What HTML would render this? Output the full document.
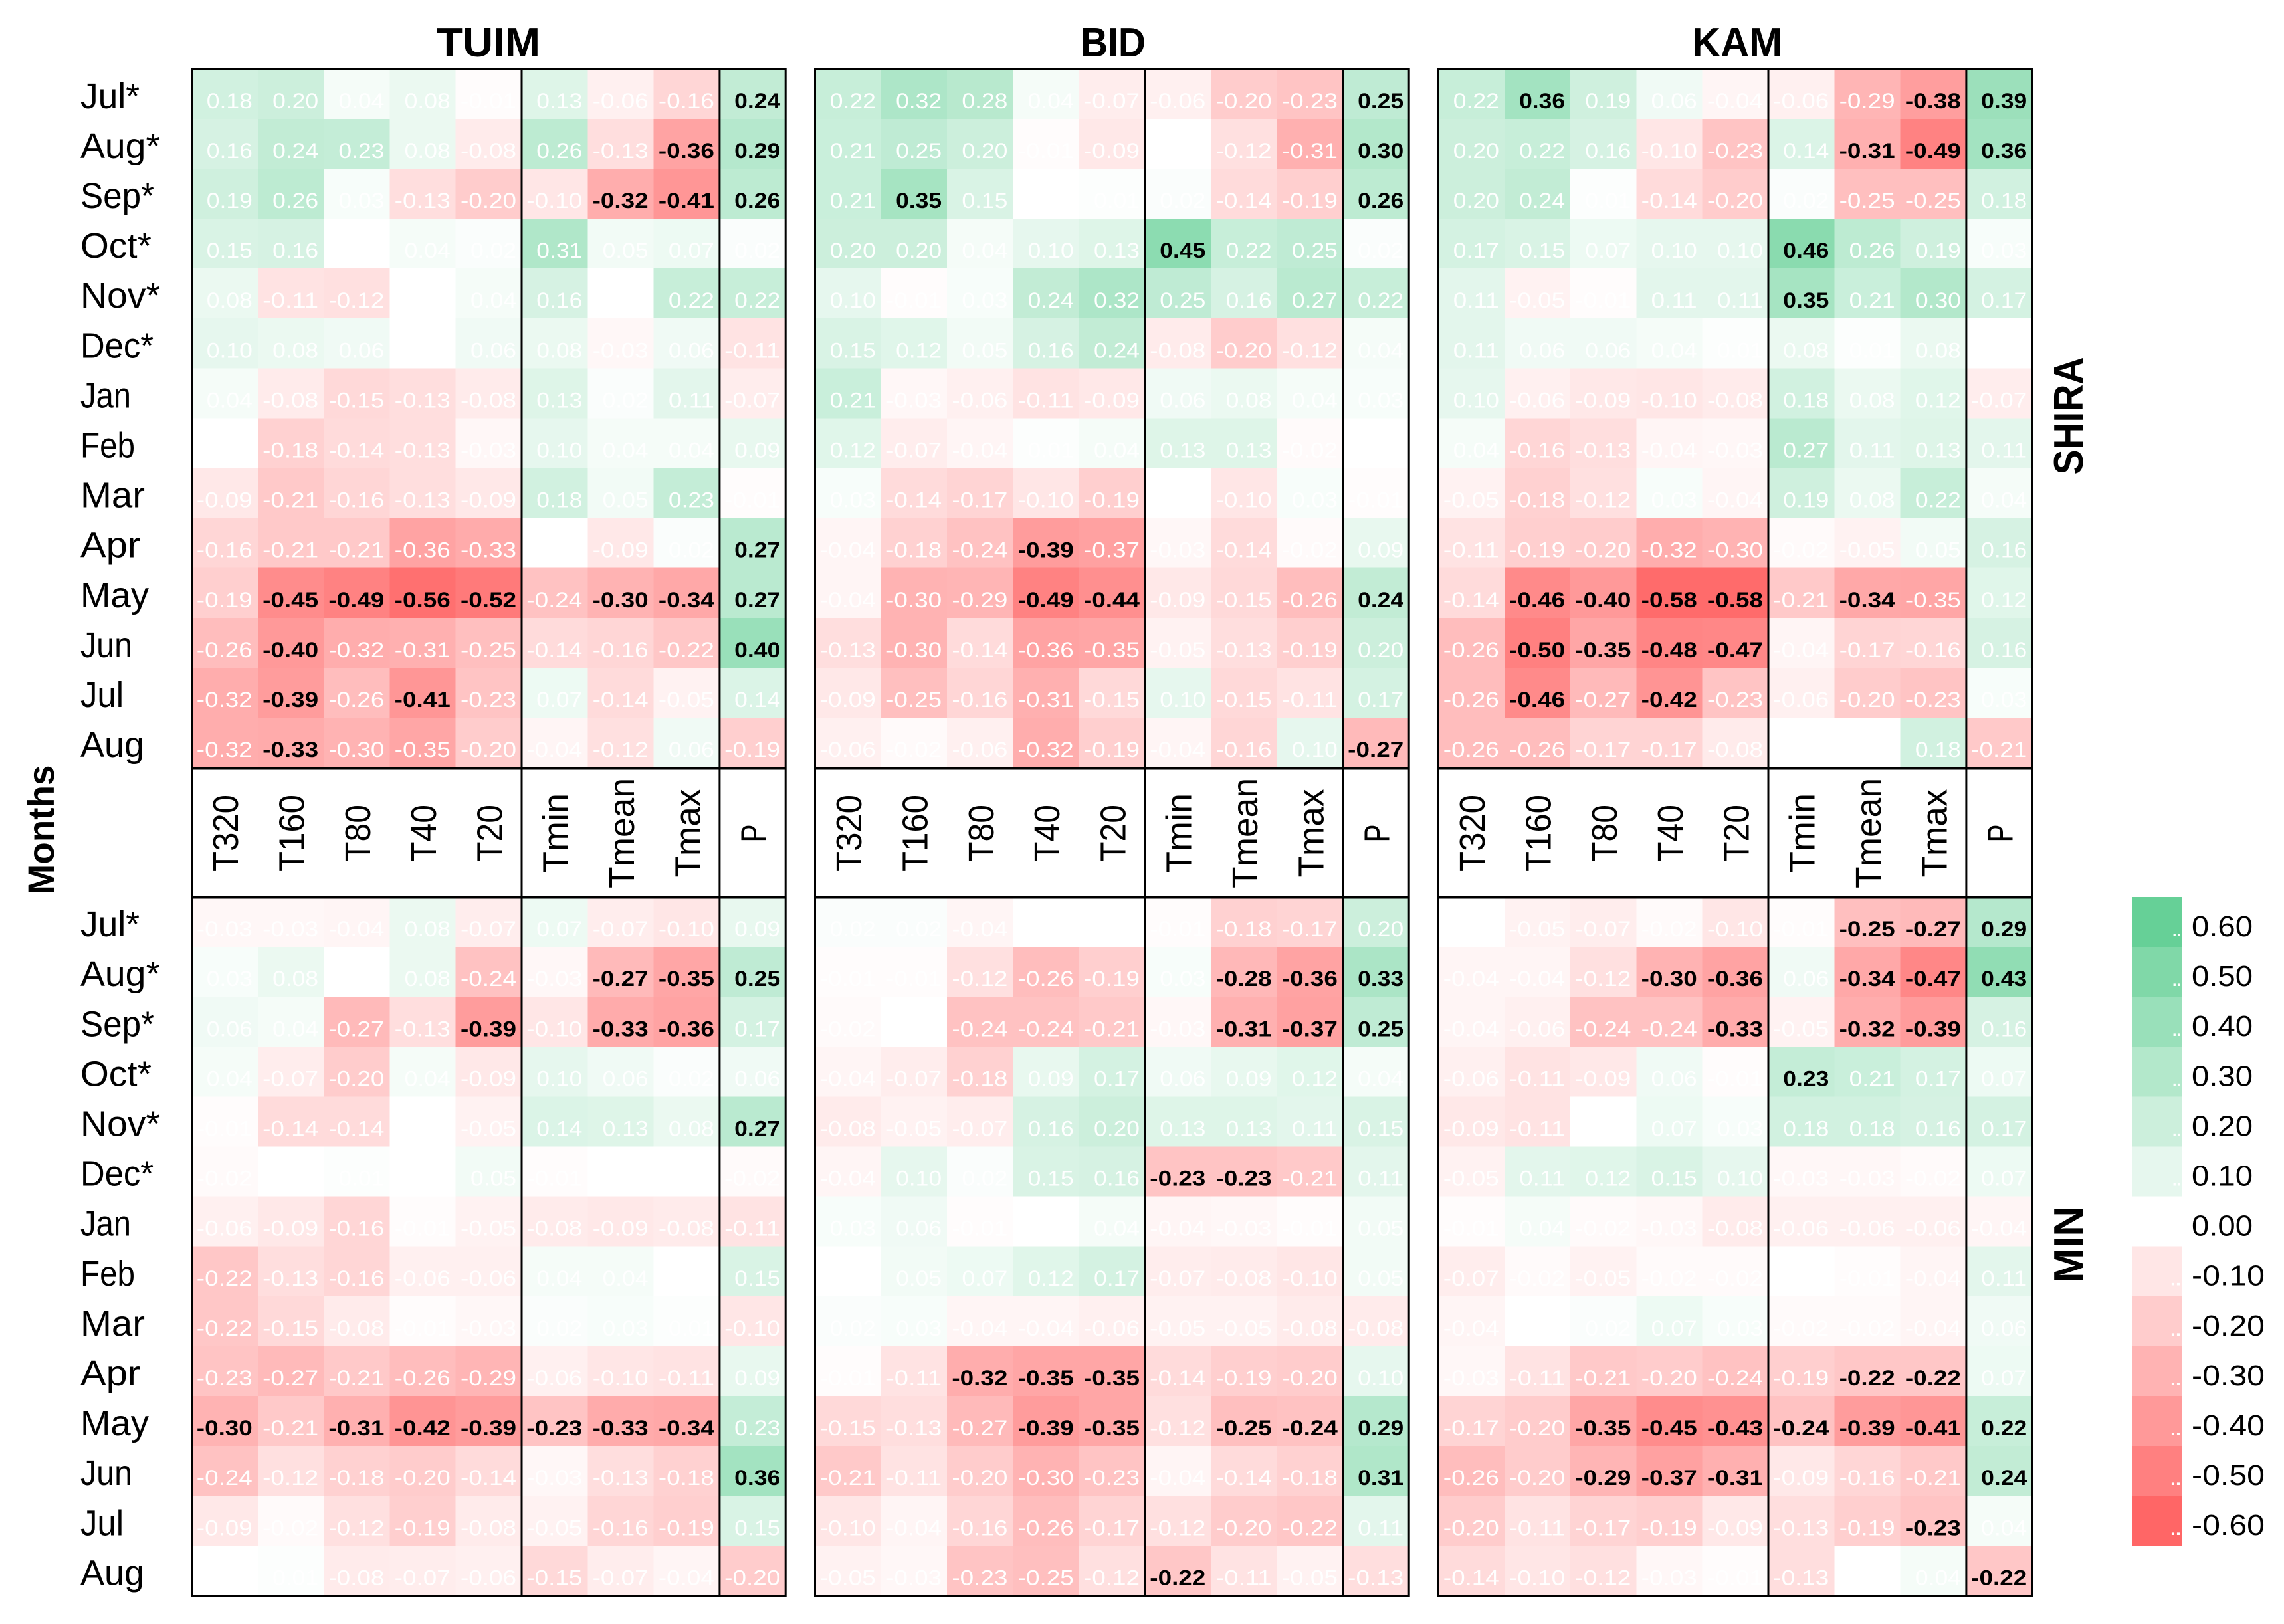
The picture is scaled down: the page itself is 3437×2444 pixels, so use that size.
<!DOCTYPE html>
<html lang="en">
<head>
<meta charset="utf-8">
<title>Correlation heatmaps TUIM BID KAM</title>
<style>
html,body{margin:0;padding:0;background:#fff;}
svg{display:block;}
text{font-family:"Liberation Sans",Arial,sans-serif;}
</style>
</head>
<body>
<svg id="chart" xmlns="http://www.w3.org/2000/svg" width="3437" height="2444" viewBox="0 0 3437 2444">
  <rect x="0" y="0" width="3437" height="2444" fill="#ffffff"/>
  <g id="cells"></g>
  <g id="cell-values"></g>
  <g id="frames"></g>
  <g id="month-labels"></g>
  <g id="variable-labels"></g>
  <g id="legend"></g>

  <text x="735" y="85" font-size="62" font-weight="bold" text-anchor="middle" textLength="156" lengthAdjust="spacingAndGlyphs">TUIM</text>
  <text x="1675" y="85" font-size="62" font-weight="bold" text-anchor="middle" textLength="98" lengthAdjust="spacingAndGlyphs">BID</text>
  <text x="2614" y="85" font-size="62" font-weight="bold" text-anchor="middle" textLength="136" lengthAdjust="spacingAndGlyphs">KAM</text>

  <text transform="translate(81 1249) rotate(-90)" font-size="56" font-weight="bold" text-anchor="middle" textLength="195" lengthAdjust="spacingAndGlyphs">Months</text>
  <text transform="translate(3134 626) rotate(-90)" font-size="62" font-weight="bold" text-anchor="middle" textLength="177" lengthAdjust="spacingAndGlyphs">SHIRA</text>
  <text transform="translate(3134 1873) rotate(-90)" font-size="62" font-weight="bold" text-anchor="middle" textLength="116" lengthAdjust="spacingAndGlyphs">MIN</text>
</svg>

<script>
const months = ['Jul*','Aug*','Sep*','Oct*','Nov*','Dec*','Jan','Feb','Mar','Apr','May','Jun','Jul','Aug'];
const variables = ['T320','T160','T80','T40','T20','Tmin','Tmean','Tmax','P'];
const legendValues = [0.60,0.50,0.40,0.30,0.20,0.10,0.00,-0.10,-0.20,-0.30,-0.40,-0.50,-0.60];

const tuimShira = [
[0.18,0.20,0.04,0.08,-0.01,0.13,-0.06,-0.16,0.24],
[0.16,0.24,0.23,0.08,-0.08,0.26,-0.13,-0.36,0.29],
[0.19,0.26,0.03,-0.13,-0.20,-0.10,-0.32,-0.41,0.26],
[0.15,0.16,0.00,0.04,0.02,0.31,0.05,0.07,0.02],
[0.08,-0.11,-0.12,0.00,0.04,0.16,0.00,0.22,0.22],
[0.10,0.08,0.06,0.00,0.06,0.08,-0.03,0.06,-0.11],
[0.04,-0.08,-0.15,-0.13,-0.08,0.13,0.02,0.11,-0.07],
[0.00,-0.18,-0.14,-0.13,-0.03,0.10,0.04,0.04,0.09],
[-0.09,-0.21,-0.16,-0.13,-0.09,0.18,0.05,0.23,-0.01],
[-0.16,-0.21,-0.21,-0.36,-0.33,0.00,-0.09,0.02,0.27],
[-0.19,-0.45,-0.49,-0.56,-0.52,-0.24,-0.30,-0.34,0.27],
[-0.26,-0.40,-0.32,-0.31,-0.25,-0.14,-0.16,-0.22,0.40],
[-0.32,-0.39,-0.26,-0.41,-0.23,0.07,-0.14,-0.05,0.14],
[-0.32,-0.33,-0.30,-0.35,-0.20,-0.04,-0.12,0.06,-0.19]
];
const bidShira = [
[0.22,0.32,0.28,0.04,-0.07,-0.06,-0.20,-0.23,0.25],
[0.21,0.25,0.20,-0.01,-0.09,0.00,-0.12,-0.31,0.30],
[0.21,0.35,0.15,0.00,0.01,0.02,-0.14,-0.19,0.26],
[0.20,0.20,0.04,0.10,0.13,0.45,0.22,0.25,0.02],
[0.10,-0.01,0.03,0.24,0.32,0.25,0.16,0.27,0.22],
[0.15,0.12,0.05,0.16,0.24,-0.08,-0.20,-0.12,0.04],
[0.21,-0.03,-0.06,-0.11,-0.09,0.06,0.08,0.04,0.03],
[0.12,-0.07,-0.04,0.01,0.04,0.13,0.13,-0.02,0.00],
[0.03,-0.14,-0.17,-0.10,-0.19,0.00,-0.10,0.03,-0.01],
[-0.04,-0.18,-0.24,-0.39,-0.37,-0.03,-0.14,-0.02,0.09],
[-0.04,-0.30,-0.29,-0.49,-0.44,-0.09,-0.15,-0.26,0.24],
[-0.13,-0.30,-0.14,-0.36,-0.35,-0.05,-0.13,-0.19,0.20],
[-0.09,-0.25,-0.16,-0.31,-0.15,0.10,-0.15,-0.11,0.17],
[-0.06,-0.02,-0.06,-0.32,-0.19,-0.04,-0.16,0.10,-0.27]
];
const kamShira = [
[0.22,0.36,0.19,0.06,-0.04,-0.06,-0.29,-0.38,0.39],
[0.20,0.22,0.16,-0.10,-0.23,0.14,-0.31,-0.49,0.36],
[0.20,0.24,0.01,-0.14,-0.20,0.02,-0.25,-0.25,0.18],
[0.17,0.15,0.07,0.10,0.10,0.46,0.26,0.19,0.03],
[0.11,-0.05,-0.01,0.11,0.11,0.35,0.21,0.30,0.17],
[0.11,0.06,0.06,0.04,0.01,0.08,0.01,0.08,0.00],
[0.10,-0.06,-0.09,-0.10,-0.08,0.18,0.08,0.12,-0.07],
[0.04,-0.16,-0.13,-0.04,-0.03,0.27,0.11,0.13,0.11],
[-0.05,-0.18,-0.12,0.03,-0.04,0.19,0.08,0.22,0.04],
[-0.11,-0.19,-0.20,-0.32,-0.30,-0.02,-0.05,0.05,0.16],
[-0.14,-0.46,-0.40,-0.58,-0.58,-0.21,-0.34,-0.35,0.12],
[-0.26,-0.50,-0.35,-0.48,-0.47,-0.04,-0.17,-0.16,0.16],
[-0.26,-0.46,-0.27,-0.42,-0.23,-0.06,-0.20,-0.23,0.03],
[-0.26,-0.26,-0.17,-0.17,-0.08,0.00,0.00,0.18,-0.21]
];
const tuimMin = [
[-0.03,-0.03,-0.04,0.08,-0.07,0.07,-0.07,-0.10,0.09],
[0.03,0.08,0.00,0.08,-0.24,-0.03,-0.27,-0.35,0.25],
[0.06,0.04,-0.27,-0.13,-0.39,-0.10,-0.33,-0.36,0.17],
[0.04,-0.07,-0.20,0.04,-0.09,0.10,0.06,0.02,0.06],
[-0.01,-0.14,-0.14,0.00,-0.05,0.14,0.13,0.08,0.27],
[-0.02,0.00,0.01,0.00,0.05,-0.01,0.00,0.00,-0.02],
[-0.06,-0.09,-0.16,-0.01,-0.05,-0.08,-0.09,-0.08,-0.11],
[-0.22,-0.13,-0.16,-0.06,-0.06,0.04,0.04,0.00,0.15],
[-0.22,-0.15,-0.08,-0.01,-0.03,0.02,0.03,0.01,-0.10],
[-0.23,-0.27,-0.21,-0.26,-0.29,-0.06,-0.10,-0.11,0.09],
[-0.30,-0.21,-0.31,-0.42,-0.39,-0.23,-0.33,-0.34,0.23],
[-0.24,-0.12,-0.18,-0.20,-0.14,-0.03,-0.13,-0.18,0.36],
[-0.09,-0.02,-0.12,-0.19,-0.08,-0.05,-0.16,-0.19,0.15],
[0.00,0.01,-0.08,-0.07,-0.06,-0.15,-0.07,-0.04,-0.20]
];
const bidMin = [
[0.02,0.02,-0.04,0.00,0.00,-0.01,-0.18,-0.17,0.20],
[-0.01,-0.01,-0.12,-0.26,-0.19,0.03,-0.28,-0.36,0.33],
[-0.02,0.00,-0.24,-0.24,-0.21,-0.03,-0.31,-0.37,0.25],
[-0.04,-0.07,-0.18,0.09,0.17,0.06,0.09,0.12,0.04],
[-0.08,-0.05,-0.07,0.16,0.20,0.13,0.13,0.11,0.15],
[-0.04,0.10,0.02,0.15,0.16,-0.23,-0.23,-0.21,0.11],
[0.03,0.06,-0.01,0.00,0.04,-0.04,-0.03,-0.01,0.05],
[0.00,0.05,0.07,0.12,0.17,-0.07,-0.08,-0.10,0.05],
[0.02,0.03,-0.04,-0.04,-0.06,-0.05,-0.05,-0.08,-0.08],
[-0.01,-0.11,-0.32,-0.35,-0.35,-0.14,-0.19,-0.20,0.10],
[-0.15,-0.13,-0.27,-0.39,-0.35,-0.12,-0.25,-0.24,0.29],
[-0.21,-0.11,-0.20,-0.30,-0.23,-0.04,-0.14,-0.18,0.31],
[-0.10,-0.04,-0.16,-0.26,-0.17,-0.12,-0.20,-0.22,0.11],
[-0.05,-0.03,-0.23,-0.25,-0.12,-0.22,-0.11,-0.05,-0.13]
];
const kamMin = [
[0.00,-0.05,-0.07,-0.02,-0.10,-0.01,-0.25,-0.27,0.29],
[-0.04,-0.04,-0.12,-0.30,-0.36,0.06,-0.34,-0.47,0.43],
[-0.04,-0.06,-0.24,-0.24,-0.33,-0.05,-0.32,-0.39,0.16],
[-0.06,-0.11,-0.09,0.06,-0.01,0.23,0.21,0.17,0.07],
[-0.09,-0.11,0.00,0.07,0.03,0.18,0.18,0.16,0.17],
[-0.05,0.11,0.12,0.15,0.10,-0.03,-0.03,-0.02,0.07],
[-0.01,0.04,-0.02,-0.03,-0.08,-0.06,-0.06,-0.06,-0.04],
[-0.07,-0.02,-0.05,-0.02,-0.02,0.00,-0.01,-0.04,0.11],
[-0.04,0.00,0.02,0.07,0.03,-0.02,-0.02,-0.04,0.06],
[-0.03,-0.11,-0.21,-0.20,-0.24,-0.19,-0.22,-0.22,0.07],
[-0.17,-0.20,-0.35,-0.45,-0.43,-0.24,-0.39,-0.41,0.22],
[-0.26,-0.20,-0.29,-0.37,-0.31,-0.09,-0.16,-0.21,0.24],
[-0.20,-0.11,-0.17,-0.19,-0.09,-0.13,-0.19,-0.23,0.04],
[-0.14,-0.10,-0.12,-0.03,-0.01,-0.13,0.00,0.04,-0.22]
];

/* significant (bold black) cells: [month index, variable index] */
const sigTuimShira = [[0,8],[1,7],[1,8],[2,6],[2,7],[2,8],[9,8],[10,1],[10,2],[10,3],[10,4],[10,6],[10,7],[10,8],[11,1],[11,8],[12,1],[12,3],[13,1]];
const sigBidShira = [[0,8],[1,8],[2,1],[2,8],[3,5],[9,3],[10,3],[10,4],[10,8],[13,8]];
const sigKamShira = [[0,1],[0,7],[0,8],[1,6],[1,7],[1,8],[3,5],[4,5],[10,1],[10,2],[10,3],[10,4],[10,6],[11,1],[11,2],[11,3],[11,4],[12,1],[12,3]];
const sigTuimMin = [[1,6],[1,7],[1,8],[2,4],[2,6],[2,7],[4,8],[10,0],[10,2],[10,3],[10,4],[10,5],[10,6],[10,7],[11,8]];
const sigBidMin = [[1,6],[1,7],[1,8],[2,6],[2,7],[2,8],[5,5],[5,6],[9,2],[9,3],[9,4],[10,3],[10,4],[10,6],[10,7],[10,8],[11,8],[13,5]];
const sigKamMin = [[0,6],[0,7],[0,8],[1,3],[1,4],[1,6],[1,7],[1,8],[2,4],[2,6],[2,7],[3,5],[9,6],[9,7],[10,2],[10,3],[10,4],[10,5],[10,6],[10,7],[10,8],[11,2],[11,3],[11,4],[11,8],[12,7],[13,8]];

const NS = 'http://www.w3.org/2000/svg';
const COL_W = 99.3;
const ROW_H = 75.1;
const SITE_X = [288.5, 1226.5, 2164.5];
const GROUP_Y = [103.7, 1350];
const BAND_Y = 1254;

function xScale(site, col) { return SITE_X[site] + col * COL_W; }
function yScale(group, row) { return GROUP_Y[group] + row * ROW_H; }
function mix(a, b, t) { return Math.round(a + (b - a) * t); }
function colorScale(v) {
  const t = Math.min(1, Math.abs(v) / 0.6);
  if (v >= 0) return 'rgb(' + mix(255,102,t) + ',' + mix(255,208,t) + ',' + mix(255,151,t) + ')';
  return 'rgb(255,' + mix(255,102,t) + ',' + mix(255,102,t) + ')';
}
function fmt(v) {
  const s = Math.abs(v).toFixed(2);
  return v < 0 ? '-' + s : s;
}
function make(tag, attrs, parent, content) {
  const el = document.createElementNS(NS, tag);
  for (const k in attrs) el.setAttribute(k, attrs[k]);
  if (content !== undefined) el.textContent = content;
  parent.appendChild(el);
  return el;
}

const cellsG = document.getElementById('cells');
const valuesG = document.getElementById('cell-values');
const framesG = document.getElementById('frames');
const monthsG = document.getElementById('month-labels');
const varsG = document.getElementById('variable-labels');
const legendG = document.getElementById('legend');

const panels = [
  [0, 0, tuimShira, sigTuimShira],
  [1, 0, bidShira, sigBidShira],
  [2, 0, kamShira, sigKamShira],
  [0, 1, tuimMin, sigTuimMin],
  [1, 1, bidMin, sigBidMin],
  [2, 1, kamMin, sigKamMin]
];

panels.forEach(function (p) {
  const site = p[0], group = p[1], data = p[2], sig = p[3];
  const sigKeys = sig.map(function (s) { return s[0] + '-' + s[1]; });
  data.forEach(function (row, r) {
    row.forEach(function (v, c) {
      const rect = make('rect', {
        x: xScale(site, c), y: yScale(group, r),
        width: COL_W + 0.6, height: ROW_H + 0.6,
        fill: colorScale(v), 'shape-rendering': 'crispEdges'
      }, cellsG);
      
      

      const bold = sigKeys.indexOf(r + '-' + c) >= 0;
      const txt = make('text', {
        x: xScale(site, c + 1) - 8,
        y: yScale(group, r + 1) - 16,
        'font-size': 32,
        'text-anchor': 'end',
        'font-weight': bold ? 'bold' : 'normal',
        fill: bold ? '#000000' : '#ffffff',
        textLength: v < 0 ? 84 : 69,
        lengthAdjust: 'spacingAndGlyphs'
      }, valuesG, fmt(v));
      
      
    });
  });
});

const monthWidths = {'Jul*':89,'Aug*':120,'Sep*':111,'Oct*':107,'Nov*':120,'Dec*':110,'Jan':76,'Feb':82,'Mar':97,'Apr':90,'May':103,'Jun':78,'Jul':65,'Aug':96};
GROUP_Y.forEach(function (g, gi) {
  months.forEach(function (m, r) {
    const t = make('text', {
      x: 121, y: yScale(gi, r + 1) - 16, 'font-size': 54, fill: '#000000',
      textLength: monthWidths[m], lengthAdjust: 'spacingAndGlyphs'
    }, monthsG, m);
    
    
  });
});

const labelLengths = [116,116,86,86,86,120,166,133,27];
SITE_X.forEach(function (sx, si) {
  variables.forEach(function (name, c) {
    const cx = xScale(si, c) + COL_W / 2 + 20;
    const t = make('text', {
      transform: 'translate(' + cx + ' ' + BAND_Y + ') rotate(-90)',
      'font-size': 54, 'text-anchor': 'middle', fill: '#000000',
      textLength: labelLengths[c], lengthAdjust: 'spacingAndGlyphs'
    }, varsG, name);
    
    
  });

  const left = sx, right = xScale(si, 9);
  const box = make('rect', {
    x: left, y: 104.5, width: right - left, height: 2297.5,
    fill: 'none', stroke: '#000000', 'stroke-width': 3
  }, framesG);
  
  

  [1156.5, 1350.5].forEach(function (y) {
    const l = make('line', { x1: left, x2: right, y1: y, y2: y, stroke: '#000000', 'stroke-width': 4 }, framesG);
    
    
  });
  [5, 8].forEach(function (c) {
    const l = make('line', { x1: xScale(si, c), x2: xScale(si, c), y1: 104.5, y2: 2402, stroke: '#000000', 'stroke-width': 3 }, framesG);
    
    
  });
});

legendValues.forEach(function (v, i) {
  const y = 1350 + i * ROW_H;
  const swatch = make('rect', {
    x: 3209, y: y, width: 75, height: ROW_H + 0.6,
    fill: colorScale(v), 'shape-rendering': 'crispEdges'
  }, legendG);
  
  

  if (v !== 0) {
    const dots = make('text', {
      x: 3282, y: y + 59, 'font-size': 24, 'font-weight': 'bold',
      'text-anchor': 'end', fill: '#ffffff',
      textLength: v < 0 ? 16 : 13, lengthAdjust: 'spacingAndGlyphs'
    }, legendG, '..');
    
    
  }

  const lab = make('text', {
    x: 3298, y: y + 59, 'font-size': 44, fill: '#000000',
    textLength: v < 0 ? 110 : 92, lengthAdjust: 'spacingAndGlyphs'
  }, legendG, fmt(v));
  
  
});
</script>
</body>
</html>
